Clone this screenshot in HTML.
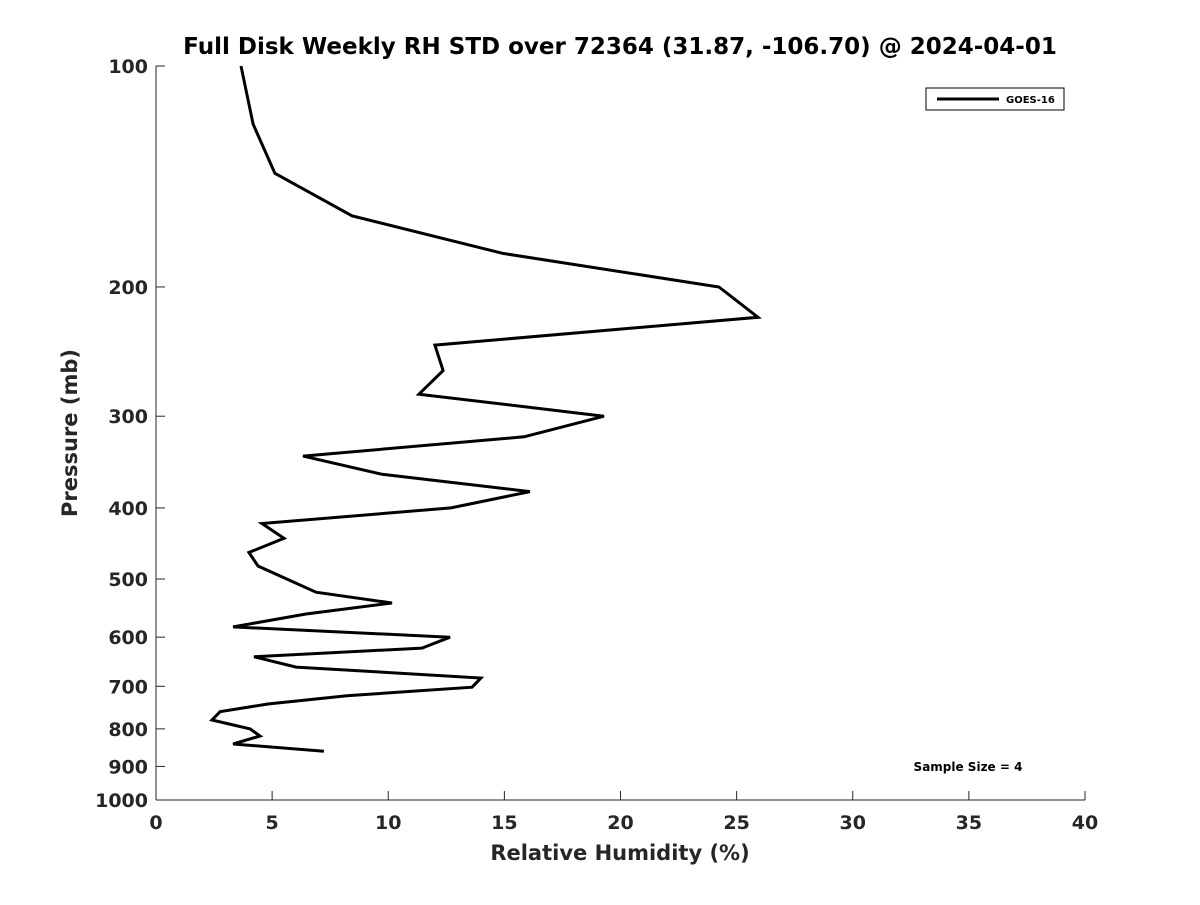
<!DOCTYPE html>
<html><head><meta charset="utf-8"><style>
body{margin:0;background:#fff;}
svg{font-family:"DejaVu Sans","Liberation Sans",sans-serif;font-weight:bold;}
</style></head><body>
<svg id="chart" width="1200" height="900" xmlns="http://www.w3.org/2000/svg">
<rect width="1200" height="900" fill="#fff"/>
<text x="620" y="54" text-anchor="middle" font-size="23" fill="#000">Full Disk Weekly RH STD over 72364 (31.87, -106.70) @ 2024-04-01</text>
<g id="axes"></g>
<path id="series" fill="none" stroke="#000" stroke-width="3" stroke-linejoin="miter"/>
<g>
<rect x="926" y="88" width="138" height="22" fill="#fff" stroke="#000" stroke-width="1"/>
<line x1="937" y1="99" x2="999" y2="99" stroke="#000" stroke-width="3"/>
<text x="1006" y="103" font-size="10" fill="#000">GOES-16</text>
</g>
<text x="968" y="771" text-anchor="middle" font-size="12" fill="#000">Sample Size = 4</text>
<text x="620" y="860" text-anchor="middle" font-size="21" fill="#262626">Relative Humidity (%)</text>
<text transform="translate(77,433) rotate(-90)" text-anchor="middle" font-size="21" fill="#262626">Pressure (mb)</text>
</svg>
<script>
const rhValues=[3.66,4.18,5.12,8.44,14.94,24.24,25.92,12.01,12.36,11.32,19.29,15.85,6.33,9.73,16.10,12.70,4.56,5.51,4.00,4.39,6.89,10.16,6.46,3.32,12.66,11.45,4.22,6.03,13.99,13.61,8.22,4.82,2.76,2.41,4.05,4.48,3.32,7.23];
const pressures=[100,120,140,160,180,200,220,240,260,280,300,320,340,360,380,400,420,440,460,480,521,539,558,581,600,621,638,659,682,702,721,740,758,778,800,818,839,858];
const xTicks=[0,5,10,15,20,25,30,35,40];
const yTicks=[100,200,300,400,500,600,700,800,900,1000];
const X0=156,X1=1085,Y0=66,Y1=800;
function xs(v){return X0+(v-0)/(40-0)*(X1-X0);}
function ys(p){return Y0+(Math.log10(p)-2)/1*(Y1-Y0);}
const ns="http://www.w3.org/2000/svg";
const g=document.getElementById('axes');
function mk(t,a){const e=document.createElementNS(ns,t);for(const k in a)e.setAttribute(k,a[k]);g.appendChild(e);return e;}
let ax=mk('line',{x1:X0,y1:Y1,x2:X1,y2:Y1,stroke:'#262626','stroke-width':1});


let ay=mk('line',{x1:X0,y1:Y0,x2:X0,y2:Y1,stroke:'#262626','stroke-width':1});


xTicks.forEach(v=>{
 const x=xs(v);
 mk('line',{x1:x,y1:Y1,x2:x,y2:Y1-9,stroke:'#262626'});
 const t=mk('text',{x:x,y:829,'text-anchor':'middle','font-size':19,fill:'#262626'});
 t.textContent=v;
 
 
});
yTicks.forEach(p=>{
 const y=ys(p);
 mk('line',{x1:X0,y1:y,x2:X0+9,y2:y,stroke:'#262626'});
 const t=mk('text',{x:148,y:y+7,'text-anchor':'end','font-size':19,fill:'#262626'});
 t.textContent=p;
 
 
});
document.getElementById('series').setAttribute('d',rhValues.map((v,i)=>(i?'L':'M')+xs(v).toFixed(1)+' '+ys(pressures[i]).toFixed(1)).join(' '));
</script>
</body></html>
